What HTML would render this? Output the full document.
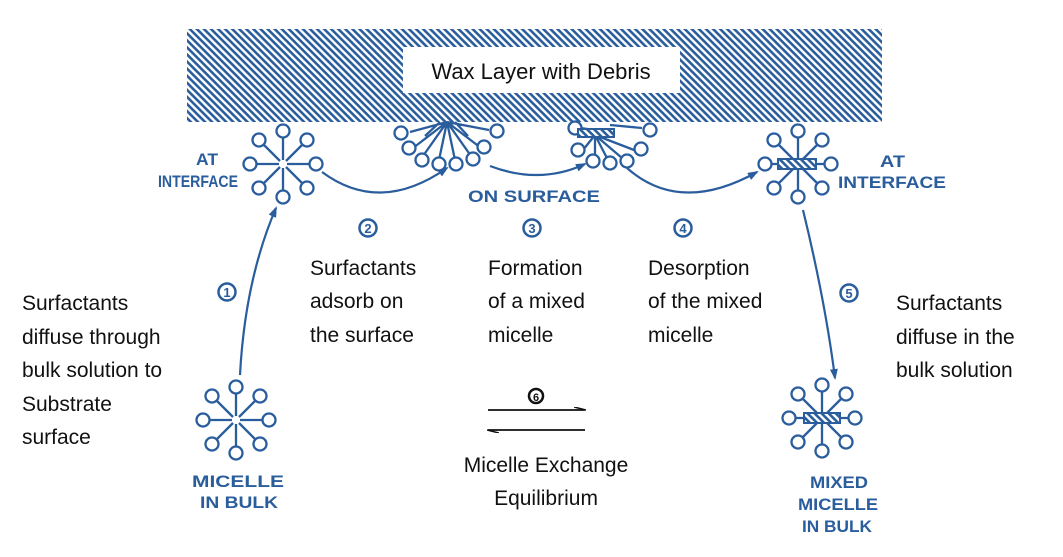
<!DOCTYPE html>
<html><head><meta charset="utf-8"><style>
html,body{margin:0;padding:0;background:#fff}
svg{display:block}
.b{font-family:"Liberation Sans",sans-serif;font-weight:bold;fill:#2a5d9c;font-size:17px}
.t{font-family:"Liberation Sans",sans-serif;font-size:21px;fill:#111}
.n{font-family:"Liberation Sans",sans-serif;font-weight:bold;fill:#2a5d9c;font-size:13px}
</style></head><body>
<svg width="1063" height="557" viewBox="0 0 1063 557" xmlns="http://www.w3.org/2000/svg">
<defs>
<pattern id="h" width="5" height="5" patternUnits="userSpaceOnUse" patternTransform="rotate(45)">
<rect width="5" height="5" fill="#fff"/><rect width="5" height="2.6" fill="#2a5d9c"/>
</pattern>
<g id="m" fill="#fff" stroke="#2a5d9c" stroke-width="2.3">
<path d="M4 0H26M-4 0H-26M0 4V26M0 -4V-26M3 3L19 19M-3 3L-19 19M3 -3L19 -19M-3 -3L-19 -19" fill="none"/>
<circle cx="33" cy="0" r="6.5"/><circle cx="-33" cy="0" r="6.5"/><circle cx="0" cy="33" r="6.5"/><circle cx="0" cy="-33" r="6.5"/>
<circle cx="24" cy="24" r="6.5"/><circle cx="-24" cy="24" r="6.5"/><circle cx="24" cy="-24" r="6.5"/><circle cx="-24" cy="-24" r="6.5"/>
</g>
<marker id="a" markerWidth="11" markerHeight="8" refX="9" refY="4" orient="auto" markerUnits="userSpaceOnUse"><path d="M0 0L11 4L0 8Z" fill="#2a5d9c"/></marker>
<marker id="k" markerWidth="12" markerHeight="6" refX="11" refY="3" orient="auto" markerUnits="userSpaceOnUse"><path d="M0 0L12 3" stroke="#111" stroke-width="1.5" fill="none"/></marker>
</defs>
<rect x="187" y="29" width="695" height="93" fill="url(#h)"/>
<rect x="403" y="47" width="277" height="46" fill="#fff"/>
<text x="541" y="79" text-anchor="middle" font-family="Liberation Sans,sans-serif" font-size="22" fill="#111">Wax Layer with Debris</text>

<use href="#m" x="283" y="164"/>
<use href="#m" x="236" y="420"/>
<use href="#m" x="798" y="164"/>
<use href="#m" x="822" y="418"/>
<rect x="778" y="159" width="38" height="10" fill="url(#h)" stroke="#2a5d9c" stroke-width="2"/>
<rect x="804" y="413" width="36" height="10" fill="url(#h)" stroke="#2a5d9c" stroke-width="2"/>

<g fill="#fff" stroke="#2a5d9c" stroke-width="2.3">
<path d="M447 122L410 132M447 122L413 148M447 122L423 156M447 122L439 160M447 122L455 160M447 122L471 156M447 122L481 148M447 122L489 130M440 122L425 136M455 122L468 136" fill="none"/>
<circle cx="401" cy="133" r="6.5"/><circle cx="409" cy="148" r="6.5"/><circle cx="422" cy="160" r="6.5"/><circle cx="439" cy="164" r="6.5"/><circle cx="456" cy="164" r="6.5"/><circle cx="473" cy="159" r="6.5"/><circle cx="484" cy="147" r="6.5"/><circle cx="497" cy="131" r="6.5"/>
<path d="M595 130L580 128M595 135L583 150M595 135L595 158M595 135L608 160M595 135L622 158M595 135L634 150M610 125L642 128" fill="none"/>
<circle cx="575" cy="128" r="6.5"/><circle cx="578" cy="150" r="6.5"/><circle cx="593" cy="161" r="6.5"/><circle cx="610" cy="163" r="6.5"/><circle cx="627" cy="161" r="6.5"/><circle cx="641" cy="149" r="6.5"/><circle cx="650" cy="130" r="6.5"/>
</g>
<rect x="578" y="129" width="36" height="8" fill="url(#h)" stroke="#2a5d9c" stroke-width="2"/>

<g fill="none" stroke="#2a5d9c" stroke-width="2.2">
<path d="M240 375Q245 280 276 208" marker-end="url(#a)"/>
<path d="M322 172Q380 215 447 168" marker-end="url(#a)"/>
<path d="M490 166Q540 185 585 164" marker-end="url(#a)"/>
<path d="M627 168Q680 215 757 172" marker-end="url(#a)"/>
<path d="M803 210Q825 300 835 378" marker-end="url(#a)"/>
</g>
<g fill="none" stroke="#2a5d9c" stroke-width="2.5">
<circle cx="227" cy="292" r="8.5"/><circle cx="368" cy="228" r="8.5"/><circle cx="532" cy="228" r="8.5"/><circle cx="683" cy="228" r="8.5"/><circle cx="849" cy="293" r="8.5"/>
</g>
<g class="n" text-anchor="middle">
<text x="227" y="297">1</text><text x="368" y="233">2</text><text x="532" y="233">3</text><text x="683" y="233">4</text><text x="849" y="298">5</text>
</g>
<circle cx="536" cy="396" r="7" fill="none" stroke="#111" stroke-width="2.5"/>
<text x="536" y="401" text-anchor="middle" font-family="Liberation Sans,sans-serif" font-weight="bold" font-size="11" fill="#111">6</text>
<line x1="488" y1="410" x2="585" y2="410" stroke="#111" stroke-width="1.8" marker-end="url(#k)"/>
<line x1="585" y1="430" x2="488" y2="430" stroke="#111" stroke-width="1.8" marker-end="url(#k)"/>

<text class="b" x="196" y="165" textLength="22" lengthAdjust="spacingAndGlyphs">AT</text>
<text class="b" x="158" y="187" textLength="80" lengthAdjust="spacingAndGlyphs">INTERFACE</text>
<text class="b" x="468" y="202" textLength="132" lengthAdjust="spacingAndGlyphs">ON SURFACE</text>
<text class="b" x="880" y="167" textLength="25" lengthAdjust="spacingAndGlyphs">AT</text>
<text class="b" x="838" y="188" textLength="108" lengthAdjust="spacingAndGlyphs">INTERFACE</text>
<text class="b" x="192" y="487" textLength="92" lengthAdjust="spacingAndGlyphs">MICELLE</text>
<text class="b" x="200" y="508" textLength="78" lengthAdjust="spacingAndGlyphs">IN BULK</text>
<text class="b" x="810" y="488" textLength="58" lengthAdjust="spacingAndGlyphs">MIXED</text>
<text class="b" x="798" y="510" textLength="80" lengthAdjust="spacingAndGlyphs">MICELLE</text>
<text class="b" x="802" y="532" textLength="70" lengthAdjust="spacingAndGlyphs">IN BULK</text>

<g class="t">
<text x="22" y="310">Surfactants</text><text x="22" y="344">diffuse through</text><text x="22" y="377">bulk solution to</text><text x="22" y="411">Substrate</text><text x="22" y="444">surface</text>
<text x="310" y="275">Surfactants</text><text x="310" y="308">adsorb on</text><text x="310" y="342">the surface</text>
<text x="488" y="275">Formation</text><text x="488" y="308">of a mixed</text><text x="488" y="342">micelle</text>
<text x="648" y="275">Desorption</text><text x="648" y="308">of the mixed</text><text x="648" y="342">micelle</text>
<text x="896" y="310">Surfactants</text><text x="896" y="344">diffuse in the</text><text x="896" y="377">bulk solution</text>
<text x="546" y="472" text-anchor="middle">Micelle Exchange</text><text x="546" y="505" text-anchor="middle">Equilibrium</text>
</g>
</svg>
</body></html>
